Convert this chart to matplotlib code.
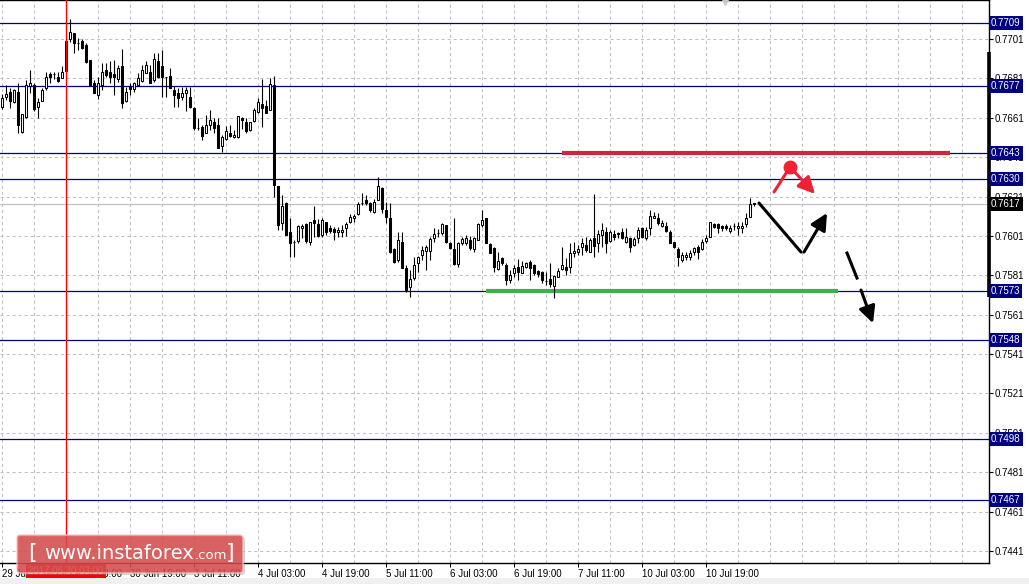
import matplotlib
matplotlib.use("Agg")
import matplotlib.pyplot as plt
import matplotlib.transforms as mtrans
from matplotlib.patches import FancyBboxPatch, Rectangle

# ---------------- data (AUD/USD H1) ----------------
opens = [0.76664, 0.76715, 0.76741, 0.76690, 0.76741, 0.76537, 0.76614, 0.76771, 0.76776, 0.76664,
         0.76695, 0.76761, 0.76832, 0.76832, 0.76817, 0.76812, 0.76847, 0.77010, 0.77041, 0.76990,
         0.77000, 0.76979, 0.76903, 0.76786, 0.76725, 0.76776, 0.76852, 0.76842, 0.76832, 0.76807,
         0.76873, 0.76695, 0.76771, 0.76756, 0.76776, 0.76797, 0.76837, 0.76842, 0.76802, 0.76898,
         0.76873, 0.76817, 0.76822, 0.76751, 0.76736, 0.76715, 0.76736, 0.76715, 0.76659, 0.76558,
         0.76563, 0.76532, 0.76573, 0.76588, 0.76573, 0.76466, 0.76502, 0.76532, 0.76512, 0.76512,
         0.76609, 0.76588, 0.76548, 0.76593, 0.76639, 0.76680, 0.76670, 0.76649, 0.76776, 0.76263,
         0.76075, 0.76177, 0.76030, 0.75979, 0.75984, 0.76050, 0.76070, 0.75979, 0.76091, 0.76070,
         0.76014, 0.76080, 0.76050, 0.76045, 0.76030, 0.76030, 0.76050, 0.76080, 0.76101, 0.76121,
         0.76177, 0.76192, 0.76177, 0.76131, 0.76192, 0.76253, 0.76141, 0.76101, 0.75943, 0.75887,
         0.75979, 0.75847, 0.75750, 0.75796, 0.75872, 0.75913, 0.75933, 0.75933, 0.75999, 0.76024,
         0.76024, 0.76065, 0.75974, 0.75943, 0.75867, 0.75974, 0.75974, 0.75989, 0.75943, 0.75989,
         0.76065, 0.76101, 0.75969, 0.75948, 0.75842, 0.75897, 0.75862, 0.75786, 0.75821, 0.75852,
         0.75821, 0.75852, 0.75877, 0.75862, 0.75831, 0.75826, 0.75781, 0.75791, 0.75755, 0.75801,
         0.75842, 0.75852, 0.75852, 0.75923, 0.75928, 0.75953, 0.75963, 0.75928, 0.75999, 0.75974,
         0.76014, 0.76030, 0.75984, 0.76019, 0.76024, 0.76030, 0.75979, 0.75999, 0.75963, 0.75999,
         0.76050, 0.75999, 0.76050, 0.76101, 0.76101, 0.76060, 0.76060, 0.76030, 0.75979, 0.75943,
         0.75887, 0.75903, 0.75903, 0.75928, 0.75953, 0.75943, 0.75984, 0.76004, 0.76070, 0.76070,
         0.76060, 0.76060, 0.76035, 0.76060, 0.76050, 0.76050, 0.76070, 0.76106, 0.76177]

highs = [0.76731, 0.76776, 0.76761, 0.76756, 0.76786, 0.76629, 0.76802, 0.76852, 0.76786, 0.76710,
         0.76761, 0.76842, 0.76842, 0.76842, 0.76842, 0.76873, 0.77000, 0.77112, 0.77041, 0.77015,
         0.77010, 0.76990, 0.76903, 0.76802, 0.76817, 0.76888, 0.76888, 0.76898, 0.76903, 0.76878,
         0.76959, 0.76766, 0.76786, 0.76791, 0.76837, 0.76878, 0.76898, 0.76878, 0.76939, 0.76939,
         0.76954, 0.76817, 0.76863, 0.76771, 0.76761, 0.76766, 0.76766, 0.76766, 0.76665, 0.76609,
         0.76573, 0.76624, 0.76649, 0.76609, 0.76609, 0.76522, 0.76568, 0.76573, 0.76548, 0.76619,
         0.76614, 0.76609, 0.76588, 0.76659, 0.76710, 0.76807, 0.76700, 0.76812, 0.76822, 0.76263,
         0.76218, 0.76182, 0.76101, 0.75989, 0.76065, 0.76070, 0.76075, 0.76080, 0.76162, 0.76096,
         0.76101, 0.76080, 0.76065, 0.76055, 0.76055, 0.76065, 0.76080, 0.76121, 0.76121, 0.76182,
         0.76228, 0.76218, 0.76182, 0.76197, 0.76309, 0.76258, 0.76182, 0.76177, 0.75948, 0.76030,
         0.76030, 0.75862, 0.75837, 0.75903, 0.75908, 0.75958, 0.75963, 0.76004, 0.76050, 0.76045,
         0.76075, 0.76065, 0.75979, 0.76101, 0.75979, 0.76004, 0.76014, 0.76009, 0.76004, 0.76075,
         0.76141, 0.76101, 0.75974, 0.75953, 0.75928, 0.75903, 0.75872, 0.75837, 0.75862, 0.75892,
         0.75882, 0.75877, 0.75887, 0.75867, 0.75837, 0.75831, 0.75826, 0.75872, 0.75811, 0.75847,
         0.75953, 0.75897, 0.75974, 0.75979, 0.75963, 0.75999, 0.76004, 0.75999, 0.76223, 0.76040,
         0.76075, 0.76055, 0.76040, 0.76040, 0.76030, 0.76050, 0.76050, 0.76004, 0.76004, 0.76055,
         0.76055, 0.76055, 0.76141, 0.76131, 0.76126, 0.76091, 0.76080, 0.76040, 0.75979, 0.75953,
         0.75928, 0.75928, 0.75938, 0.75953, 0.75963, 0.75994, 0.76014, 0.76080, 0.76075, 0.76075,
         0.76065, 0.76070, 0.76065, 0.76075, 0.76080, 0.76080, 0.76126, 0.76202, 0.76177]

lows = [0.76654, 0.76700, 0.76659, 0.76685, 0.76532, 0.76532, 0.76609, 0.76736, 0.76644, 0.76609,
        0.76695, 0.76751, 0.76786, 0.76807, 0.76791, 0.76812, 0.76847, 0.76995, 0.76939, 0.76954,
        0.76959, 0.76888, 0.76771, 0.76736, 0.76705, 0.76751, 0.76817, 0.76786, 0.76725, 0.76791,
        0.76659, 0.76690, 0.76725, 0.76741, 0.76771, 0.76791, 0.76837, 0.76786, 0.76791, 0.76812,
        0.76715, 0.76715, 0.76761, 0.76665, 0.76665, 0.76700, 0.76644, 0.76659, 0.76548, 0.76548,
        0.76497, 0.76532, 0.76548, 0.76532, 0.76456, 0.76436, 0.76497, 0.76512, 0.76507, 0.76507,
        0.76553, 0.76532, 0.76543, 0.76588, 0.76634, 0.76563, 0.76634, 0.76649, 0.76207, 0.76040,
        0.76040, 0.76014, 0.75903, 0.75903, 0.75974, 0.75999, 0.75974, 0.75963, 0.76004, 0.76004,
        0.76004, 0.76014, 0.76024, 0.75989, 0.76004, 0.76004, 0.76009, 0.76075, 0.76080, 0.76116,
        0.76167, 0.76167, 0.76131, 0.76126, 0.76192, 0.76126, 0.76075, 0.75923, 0.75872, 0.75877,
        0.75847, 0.75725, 0.75699, 0.75786, 0.75826, 0.75887, 0.75837, 0.75887, 0.75979, 0.76004,
        0.76014, 0.75974, 0.75943, 0.75862, 0.75852, 0.75963, 0.75963, 0.75938, 0.75928, 0.75989,
        0.76055, 0.75974, 0.75923, 0.75826, 0.75837, 0.75862, 0.75760, 0.75770, 0.75801, 0.75786,
        0.75821, 0.75847, 0.75786, 0.75811, 0.75801, 0.75770, 0.75760, 0.75750, 0.75694, 0.75801,
        0.75837, 0.75811, 0.75821, 0.75903, 0.75913, 0.75913, 0.75928, 0.75928, 0.75903, 0.75928,
        0.75953, 0.75923, 0.75979, 0.75989, 0.75999, 0.75994, 0.75974, 0.75928, 0.75958, 0.75974,
        0.75999, 0.75989, 0.76014, 0.76101, 0.76065, 0.76055, 0.76030, 0.75974, 0.75948, 0.75857,
        0.75877, 0.75887, 0.75887, 0.75913, 0.75892, 0.75938, 0.75974, 0.76004, 0.76050, 0.76024,
        0.76035, 0.76040, 0.76024, 0.76040, 0.76014, 0.76024, 0.76055, 0.76106, 0.76162]

closes = [0.76710, 0.76731, 0.76695, 0.76751, 0.76573, 0.76629, 0.76776, 0.76786, 0.76654, 0.76690,
          0.76751, 0.76817, 0.76817, 0.76830, 0.76797, 0.76842, 0.77000, 0.77046, 0.76990, 0.76988,
          0.76964, 0.76893, 0.76776, 0.76736, 0.76786, 0.76842, 0.76827, 0.76817, 0.76817, 0.76863,
          0.76685, 0.76741, 0.76756, 0.76786, 0.76812, 0.76852, 0.76878, 0.76786, 0.76908, 0.76817,
          0.76817, 0.76815, 0.76761, 0.76725, 0.76710, 0.76736, 0.76751, 0.76665, 0.76558, 0.76556,
          0.76517, 0.76573, 0.76598, 0.76558, 0.76456, 0.76512, 0.76543, 0.76517, 0.76522, 0.76619,
          0.76598, 0.76543, 0.76588, 0.76649, 0.76690, 0.76659, 0.76634, 0.76781, 0.76268, 0.76065,
          0.76162, 0.76014, 0.75974, 0.75977, 0.76060, 0.76060, 0.75984, 0.76080, 0.76075, 0.76009,
          0.76091, 0.76030, 0.76035, 0.76030, 0.76040, 0.76040, 0.76070, 0.76106, 0.76111, 0.76172,
          0.76175, 0.76177, 0.76141, 0.76182, 0.76263, 0.76146, 0.76106, 0.75928, 0.75877, 0.75989,
          0.75847, 0.75735, 0.75791, 0.75862, 0.75903, 0.75938, 0.75953, 0.75994, 0.76019, 0.76026,
          0.76070, 0.75979, 0.75948, 0.75867, 0.75974, 0.75994, 0.75999, 0.75948, 0.75999, 0.76070,
          0.76091, 0.75974, 0.75923, 0.75852, 0.75882, 0.75872, 0.75786, 0.75811, 0.75847, 0.75826,
          0.75857, 0.75872, 0.75847, 0.75821, 0.75816, 0.75786, 0.75779, 0.75765, 0.75806, 0.75831,
          0.75862, 0.75837, 0.75923, 0.75933, 0.75943, 0.75974, 0.75938, 0.75989, 0.75958, 0.76019,
          0.76040, 0.75974, 0.76030, 0.76004, 0.76022, 0.75999, 0.76004, 0.75953, 0.75994, 0.76040,
          0.76004, 0.76040, 0.76111, 0.76111, 0.76075, 0.76075, 0.76035, 0.75974, 0.75953, 0.75903,
          0.75913, 0.75913, 0.75923, 0.75948, 0.75928, 0.75979, 0.75999, 0.76080, 0.76055, 0.76050,
          0.76050, 0.76050, 0.76050, 0.76058, 0.76060, 0.76060, 0.76101, 0.76172, 0.76170]

levels = [0.7709, 0.7677, 0.7643, 0.7630, 0.7573, 0.7548, 0.7498, 0.7467]
current_price = 0.7617
price_ticks = [0.7441, 0.7461, 0.7481, 0.7501, 0.7521, 0.7541, 0.7561, 0.7581,
               0.7601, 0.7621, 0.7641, 0.7661, 0.7681, 0.7701]
time_labels = ["29 Jun 11:00", "30 Jun 03:00", "30 Jun 19:00", "3 Jul 11:00",
               "4 Jul 03:00", "4 Jul 19:00", "5 Jul 11:00", "6 Jul 03:00",
               "6 Jul 19:00", "7 Jul 11:00", "10 Jul 03:00", "10 Jul 19:00"]
time_label_bars = [0, 16, 32, 48, 64, 80, 96, 112, 128, 144, 160, 176]
crosshair_bar = 16
crosshair_label = "2017.06.30 03:00"
support_zone = (121, 209, 0.7573)     # green
resistance_zone = (140, 237, 0.7643)  # red

# ---------------- figure ----------------
W, H, DPI = 1029, 584, 100
fig = plt.figure(figsize=(W / DPI, H / DPI), dpi=DPI)
fig.patch.set_facecolor("white")
FONT = "Liberation Sans"

ax_r, ax_b = 989, 563
ax = fig.add_axes([0, 1 - ax_b / H, ax_r / W, ax_b / H])
ax.set_facecolor("white")
ax.set_xlim(-0.5, 246.75)
ax.set_ylim(0.74349, 0.77208)

for s in ["left"]:
    ax.spines[s].set_visible(False)
for s in ["top", "right", "bottom"]:
    ax.spines[s].set_color("black")
    ax.spines[s].set_linewidth(1.0)

# grid
grid_kw = dict(color="#c0c0c0", lw=0.75, linestyle=(0, (2.9, 2.9)), zorder=0)
for p in price_ticks:
    ax.axhline(p, **grid_kw)
for b in range(0, 247, 8):
    ax.axvline(b, **grid_kw)

# current price line
ax.axhline(current_price, color="#c0c0c0", lw=0.9, zorder=0.5)

# level lines
for lv in levels:
    ax.axhline(lv, color="#000080", lw=0.9, zorder=1)

# zones
ax.plot([support_zone[0], support_zone[1]], [support_zone[2]] * 2,
        color="#3cb34a", lw=3.0, solid_capstyle="butt", zorder=1.5)
ax.plot([resistance_zone[0], resistance_zone[1]], [resistance_zone[2]] * 2,
        color="#c9283e", lw=3.0, solid_capstyle="butt", zorder=1.5)

# candles
idx = list(range(len(opens)))
ax.vlines(idx, lows, highs, color="black", lw=0.8, zorder=2)
bottoms = [min(o, c) for o, c in zip(opens, closes)]
heights = [abs(c - o) for o, c in zip(opens, closes)]
colors = ["white" if c >= o else "black" for o, c in zip(opens, closes)]
ax.bar(idx, heights, bottom=bottoms, width=0.5, color=colors,
       edgecolor="black", linewidth=0.75, zorder=3)

# crosshair line
ax.axvline(crosshair_bar, color="#ff0000", lw=1.0, zorder=4)

# forecast arrows
ax.plot([193, 197], [0.76233, 0.76360], color="#ee2233", lw=2.2, zorder=5,
        solid_capstyle="round")
ax.plot([197], [0.76360], "o", color="#ee2233", ms=9, zorder=5)
ax.annotate("", xy=(203.25, 0.76223), xytext=(197, 0.76360),
            arrowprops=dict(arrowstyle="-|>,head_length=1.0,head_width=0.5",
                            color="#ee2233", lw=2.2, shrinkA=0, shrinkB=0), zorder=5)
ax.plot([189.25, 199.75], [0.76177, 0.75928], color="black", lw=2.2, zorder=5,
        solid_capstyle="round")
ax.annotate("", xy=(206.25, 0.76126), xytext=(200.5, 0.75928),
            arrowprops=dict(arrowstyle="-|>,head_length=1.0,head_width=0.5",
                            color="black", lw=2.2, shrinkA=0, shrinkB=0), zorder=5)
ax.plot([211.25, 213.75], [0.75923, 0.75796], color="black", lw=2.2, zorder=5)
ax.annotate("", xy=(217.75, 0.75567), xytext=(214.75, 0.75735),
            arrowprops=dict(arrowstyle="-|>,head_length=1.0,head_width=0.5",
                            color="black", lw=2.2, shrinkA=0, shrinkB=0), zorder=5)

# y axis (right)
ax.yaxis.tick_right()
ax.set_yticks(price_ticks)
ax.set_yticklabels([f"{p:.4f}" for p in price_ticks], fontsize=7, family=FONT)
ax.tick_params(axis="y", direction="out", length=3, width=0.8, pad=1, colors="black")

# x axis
ax.set_xticks(time_label_bars)
ax.set_xticklabels(time_labels, fontsize=7, family=FONT, ha="left")
ax.tick_params(axis="x", direction="out", length=3, width=0.8, pad=1.5, colors="black")

ytrans = mtrans.blended_transform_factory(ax.transAxes, ax.transData)
for lv in levels:
    ax.annotate(f"{lv:.4f}", xy=(1, lv), xycoords=ytrans, xytext=(2, 0),
                textcoords="offset pixels", ha="left", va="center", color="white",
                fontsize=7, family=FONT, annotation_clip=False, zorder=10,
                bbox=dict(boxstyle="square,pad=0.2", fc="#000080", ec="none"))
ax.annotate(f"{current_price:.4f}", xy=(1, current_price), xycoords=ytrans, xytext=(2, 0),
            textcoords="offset pixels", ha="left", va="center", color="white",
            fontsize=7, family=FONT, annotation_clip=False, zorder=10,
            bbox=dict(boxstyle="square,pad=0.2", fc="black", ec="none"))
# thick marker on price scale
ax.plot([1, 1], [0.76944, 0.75699], transform=ytrans, color="black", lw=2.6,
        clip_on=False, zorder=6, solid_capstyle="butt")

xtrans = mtrans.blended_transform_factory(ax.transData, ax.transAxes)
ax.plot([180.75], [1.0], marker="v", ms=7, color="#c8c8c8", transform=xtrans,
        clip_on=False, zorder=6)
ax.annotate(crosshair_label, xy=(crosshair_bar, 0), xycoords=xtrans, xytext=(0, -8),
            textcoords="offset pixels", ha="center", va="center", color="white",
            fontsize=7, family=FONT, annotation_clip=False, zorder=11,
            bbox=dict(boxstyle="square,pad=0.2", fc="#ff0000", ec="none"))

# bottom gray strip
fig.patches.append(Rectangle((0, 0), W, 6, transform=mtrans.IdentityTransform(),
                             fc="#f0f0f0", ec="none", zorder=0))

# watermark
ident = mtrans.IdentityTransform()
fig.patches.append(FancyBboxPatch((19, 9), 226, 38, boxstyle="round,pad=0,rounding_size=3",
                                  transform=ident, fc="#888888", ec="none", alpha=0.35, zorder=20))
fig.patches.append(FancyBboxPatch((17, 11), 226, 38, boxstyle="round,pad=0,rounding_size=3",
                                  transform=ident, fc="#d94848", ec="#f2c8c8", lw=1.0,
                                  alpha=0.82, zorder=21))
fig.text(28, 25, "[", transform=ident, fontsize=16, color="white", family="DejaVu Sans",
         va="baseline", ha="left", zorder=22)
fig.text(44, 25, "www.instaforex", transform=ident, fontsize=14, color="white",
         family="DejaVu Sans", va="baseline", ha="left", zorder=22)
fig.text(195, 25, ".com", transform=ident, fontsize=9.5, color="white",
         family="DejaVu Sans", va="baseline", ha="left", zorder=22)
fig.text(226, 25, "]", transform=ident, fontsize=16, color="white", family="DejaVu Sans",
         va="baseline", ha="left", zorder=22)

fig.savefig("out.png", dpi=DPI, facecolor="white")
